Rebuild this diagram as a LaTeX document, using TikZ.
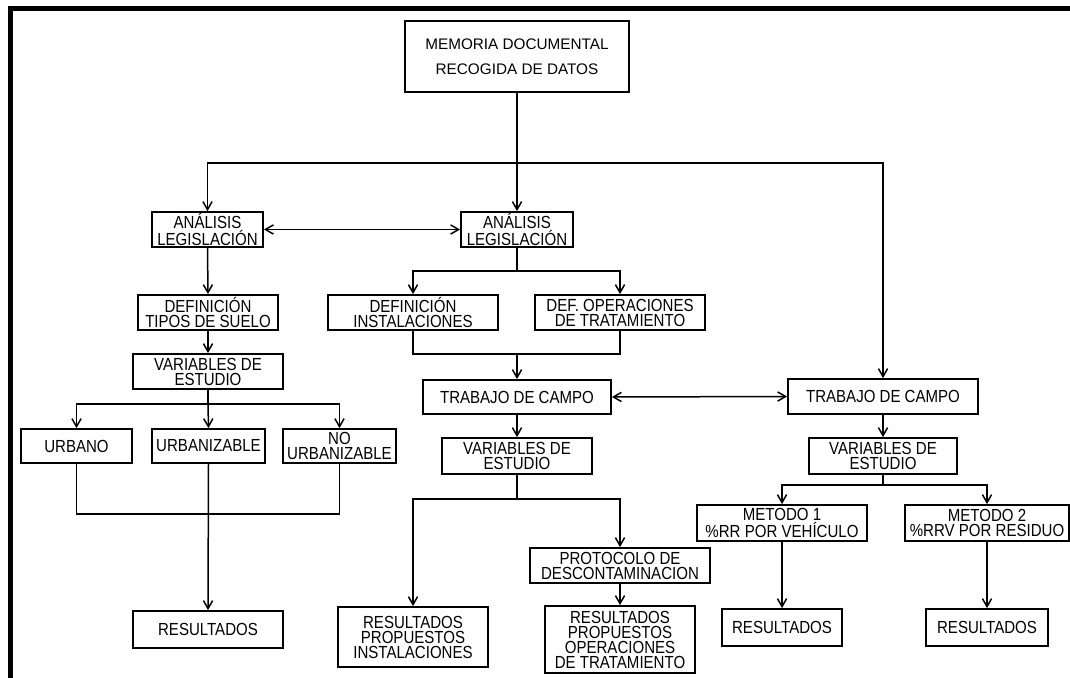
\documentclass[tikz,border=0pt]{standalone}
\usepackage{fontspec}
\usetikzlibrary{arrows.meta}
\newfontfamily\nf[FakeStretch=0.86]{Liberation Sans}
\newfontfamily\wf{Liberation Sans}
\newcommand\bx[6]{\node[box, minimum width={(#4-#2)*0.5pt}, minimum height={(#5-#3)*0.5pt}] (#1) at ({(#2+#4)/2},{(#3+#5)/2}) {#6};}
\begin{document}
\begin{tikzpicture}[x=0.5pt,y=-0.5pt,
  box/.style={draw, line width=0.9pt, inner sep=0pt, align=center, font=\nf\fontsize{8.75}{7.5}\selectfont},
  wbox/.style={font=\wf\fontsize{7.65}{12.5}\selectfont},
  conn/.style={line width=0.75pt},
  arr/.style={conn, -{Straight Barb[length=4pt,width=4.6pt,line width=0.75pt]}},
  darr/.style={conn, {Straight Barb[length=4pt,width=4.6pt,line width=0.75pt]}-{Straight Barb[length=4pt,width=4.6pt,line width=0.75pt]}}]
\useasboundingbox (0,0) rectangle (1070,678);
% frame
\fill (8,6) rectangle (13,678);
\fill (8,6) rectangle (1070,11);
% boxes
\node[box, wbox, minimum width=112pt, minimum height=35.5pt] (mem) at (517,56.5) {MEMORIA DOCUMENTAL\\RECOGIDA DE DATOS};
\bx{an1}{152}{212}{263}{247}{ANÁLISIS\\LEGISLACIÓN}
\bx{an2}{461}{212}{573}{247}{ANÁLISIS\\LEGISLACIÓN}
\bx{deft}{138}{295}{278}{330}{DEFINICIÓN\\TIPOS DE SUELO}
\bx{var1}{133}{354}{283}{389}{VARIABLES DE\\ESTUDIO}
\bx{urb}{21}{429}{132}{463}{URBANO}
\bx{urbz}{152}{429}{265}{463}{URBANIZABLE}
\bx{nourb}{283}{429}{396}{463}{NO\\URBANIZABLE}
\bx{res1}{133}{611}{283}{648}{RESULTADOS}
\bx{defi}{328}{295}{498}{330}{DEFINICIÓN\\INSTALACIONES}
\bx{defo}{535}{295}{705}{330}{DEF. OPERACIONES\\DE TRATAMIENTO}
\bx{trab1}{423}{380}{611}{414}{TRABAJO DE CAMPO}
\bx{trab2}{788}{379}{978}{414}{TRABAJO DE CAMPO}
\bx{var2}{442}{438}{592}{474}{VARIABLES DE\\ESTUDIO}
\bx{var3}{809}{438}{957}{474}{VARIABLES DE\\ESTUDIO}
\bx{rpi}{338}{607}{488}{667}{RESULTADOS\\PROPUESTOS\\INSTALACIONES}
\bx{prot}{530}{548}{710}{583}{PROTOCOLO DE\\DESCONTAMINACION}
\bx{rpo}{545}{606}{695}{673}{RESULTADOS\\PROPUESTOS\\OPERACIONES\\DE TRATAMIENTO}
\bx{met1}{697}{505}{867}{541}{METODO 1\\\%RR POR VEHÍCULO}
\bx{met2}{905}{505}{1069}{541}{METODO 2\\\%RRV POR RESIDUO}
\bx{res2}{722}{609}{842}{646}{RESULTADOS}
\bx{res3}{926}{609}{1048}{646}{RESULTADOS}
% junctions
\coordinate (j1) at (517,163);
\coordinate (j2) at (208,404);
\coordinate (j3) at (208,514);
\coordinate (j4) at (517,271);
\coordinate (j5) at (517,354);
\coordinate (j6) at (517,499);
\coordinate (j7) at (883,485);
% connectors
\draw[arr] (mem.south) -- (an2.north);
\draw[arr] (j1) -| (an1.north);
\draw[arr] (j1) -| (trab2.north);
\draw[darr] (an1.east) -- (an2.west);
\draw[arr] (an1.south) -- (deft.north);
\draw[arr] (deft.south) -- (var1.north);
\draw[conn] (var1.south) -- (j2);
\draw[arr] (j2) -| (urb.north);
\draw[arr] (j2) -- (urbz.north);
\draw[arr] (j2) -| (nourb.north);
\draw[conn] (urb.south) |- (j3) -| (nourb.south);
\draw[arr] (urbz.south) -- (res1.north);
\draw[conn] (an2.south) -- (j4);
\draw[arr] (j4) -| (defi.north);
\draw[arr] (j4) -| (defo.north);
\draw[conn] (defi.south) |- (j5) -| (defo.south);
\draw[arr] (j5) -- (trab1.north);
\draw[darr] (trab1.east) -- (trab2.west);
\draw[arr] (trab1.south) -- (var2.north);
\draw[conn] (var2.south) -- (j6);
\draw[arr] (j6) -| (rpi.north);
\draw[arr] (j6) -| (prot.north);
\draw[arr] (prot.south) -- (rpo.north);
\draw[arr] (trab2.south) -- (var3.north);
\draw[conn] (var3.south) -- (j7);
\draw[arr] (j7) -| (met1.north);
\draw[arr] (j7) -| (met2.north);
\draw[arr] (met1.south) -- (met1.south |- res2.north);
\draw[arr] (met2.south) -- (met2.south |- res3.north);
\end{tikzpicture}
\end{document}
